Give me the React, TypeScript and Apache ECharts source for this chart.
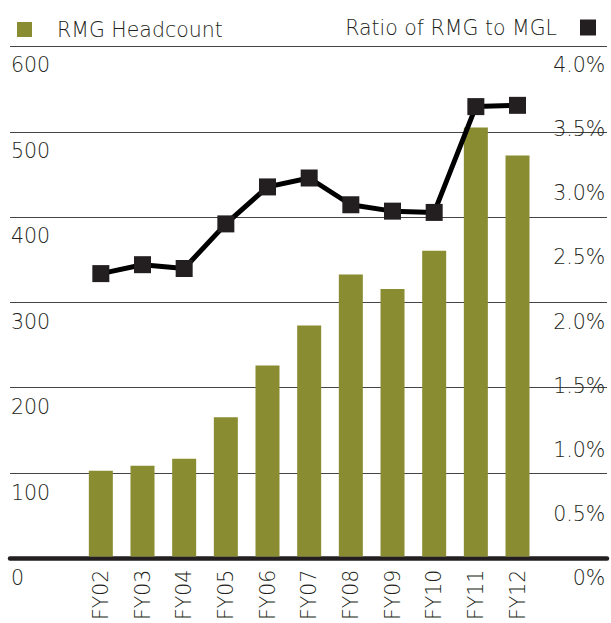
import React, { useEffect, useRef } from "react";
import * as echarts from "echarts";

const categories = ["FY02", "FY03", "FY04", "FY05", "FY06", "FY07", "FY08", "FY09", "FY10", "FY11", "FY12"];
const headcount = [101, 107, 115, 164, 225, 272, 332, 315, 360, 505, 472];
const ratio = [2.22, 2.29, 2.26, 2.61, 2.9, 2.97, 2.76, 2.71, 2.7, 3.53, 3.54];
const leftTicks = { min: 0, max: 600, interval: 100 };
const rightTicks = { min: 0, max: 4, interval: 0.5 };

const FONT = "DejaVu Sans";
const TEXT = "#231f20";

export default function App() {
  const ref = useRef<HTMLDivElement>(null);
  useEffect(() => {
    if (!ref.current) return;
    const chart = echarts.init(ref.current, undefined, { renderer: "svg" });
    const textBase = { fontFamily: FONT, fontWeight: 300 as any, fontSize: 20.5, color: TEXT };
    chart.setOption({
      animation: false,
      backgroundColor: "#ffffff",
      grid: [
        { left: 10, right: 4, top: 46.7, bottom: 65 },
        { left: 80, right: 72.65, top: 46.7, bottom: 65 },
        { left: 80, right: 72.65, top: 65, bottom: 45 },
      ],
      legend: [
        {
          data: [{ name: "RMG Headcount", icon: "rect" }],
          left: 12,
          top: 14,
          itemWidth: 15,
          itemHeight: 15,
          textStyle: { ...textBase, padding: [0, 0, 0, 20] },
        },
        {
          data: [{ name: "Ratio of RMG to MGL", icon: "rect" }],
          right: 10,
          top: 12,
          align: "right",
          itemWidth: 16,
          itemHeight: 16,
          textStyle: { ...textBase, padding: [0, 18, 0, 0] },
        },
      ],
      xAxis: [
        {
          gridIndex: 0,
          type: "value",
          min: 0,
          max: 1,
          axisLine: { show: true, lineStyle: { color: TEXT, width: 4.5 } },
          axisTick: { show: false },
          axisLabel: { show: false },
          splitLine: { show: false },
        },
        {
          gridIndex: 1,
          type: "category",
          data: categories,
          axisLine: { show: false },
          axisTick: { show: false },
          axisLabel: { ...textBase, rotate: 90, margin: 13 },
        },
        { gridIndex: 2, type: "category", data: categories, show: false },
      ],
      yAxis: [
        {
          gridIndex: 0,
          type: "value",
          ...leftTicks,
          axisLine: { show: false },
          axisTick: { show: false },
          axisLabel: { show: false },
          splitLine: { show: true, lineStyle: { color: "#444444", width: 1 } },
        },
        { gridIndex: 1, type: "value", ...leftTicks, show: false },
        { gridIndex: 1, type: "value", ...rightTicks, show: false, position: "right" },
        {
          gridIndex: 2,
          type: "value",
          ...leftTicks,
          position: "left",
          axisLine: { show: false },
          axisTick: { show: false },
          splitLine: { show: false },
          axisLabel: { ...textBase, align: "left", margin: 69 },
        },
        {
          gridIndex: 2,
          type: "value",
          ...rightTicks,
          position: "right",
          axisLine: { show: false },
          axisTick: { show: false },
          splitLine: { show: false },
          axisLabel: {
            ...textBase,
            align: "right",
            margin: 67,
            formatter: (v: number) => (v === 0 ? "0%" : v.toFixed(1) + "%"),
          },
        },
      ],
      series: [
        {
          name: "RMG Headcount",
          type: "bar",
          xAxisIndex: 1,
          yAxisIndex: 1,
          data: headcount,
          barWidth: 24,
          itemStyle: { color: "#8a8c31" },
        },
        {
          name: "Ratio of RMG to MGL",
          type: "line",
          xAxisIndex: 1,
          yAxisIndex: 2,
          data: ratio,
          symbol: "rect",
          symbolSize: 17,
          lineStyle: { color: "#000000", width: 5 },
          itemStyle: { color: TEXT },
          z: 5,
        },
      ],
    });
    return () => chart.dispose();
  }, []);
  return <div ref={ref} style={{ width: 611, height: 623, position: "absolute", left: 0, top: 0 }} />;
}
